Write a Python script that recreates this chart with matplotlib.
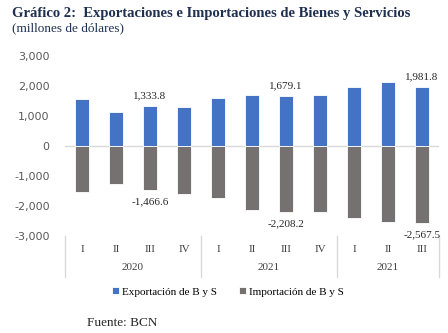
import matplotlib.pyplot as plt
import numpy as np

# quarterly values, millions of dollars
quarters = ["I", "II", "III", "IV", "I", "II", "III", "IV", "I", "II", "III"]
years = ["2020", "2021", "2021"]
year_sizes = [4, 4, 3]
exports = [1555, 1135, 1333.8, 1310, 1590, 1685, 1679.1, 1685, 1965, 2120, 1981.8]
imports = [-1540, -1275, -1466.6, -1610, -1720, -2130, -2208.2, -2205, -2390, -2540, -2567.5]
labeled = [2, 6, 10]

BLUE = "#4472C4"
GRAY = "#767171"
SERIF = "Liberation Serif"


def main():
    fig = plt.figure(figsize=(4.48, 3.33), dpi=100)
    ax = fig.add_axes([65 / 448, 1 - 236 / 333, 374 / 448, 180 / 333])

    x = np.arange(len(quarters))
    ax.bar(x, exports, width=0.44, color=BLUE, edgecolor="white", linewidth=0.6,
           label="Exportación de B y S", zorder=2)
    ax.bar(x, imports, width=0.44, color=GRAY, edgecolor="white", linewidth=0.6,
           label="Importación de B y S", zorder=2)
    ax.axhline(0, color="#d9d9d9", linewidth=1, zorder=1)

    for i in labeled:
        ax.annotate(f"{exports[i]:,.1f}", (x[i], exports[i]), xytext=(0, 4),
                    textcoords="offset points", ha="center", va="bottom",
                    fontsize=8, family=SERIF, color="#262626")
        ax.annotate(f"{imports[i]:,.1f}", (x[i], imports[i]), xytext=(0, -5),
                    textcoords="offset points", ha="center", va="top",
                    fontsize=8, family=SERIF, color="#262626")

    ax.set_xlim(-0.5, len(quarters) - 0.5)
    ax.set_ylim(-3000, 3000)
    ax.set_yticks(np.arange(-3000, 3001, 1000))
    ax.yaxis.set_major_formatter(plt.FuncFormatter(lambda v, p: f"{v:,.0f}"))
    ax.tick_params(axis="y", length=0, labelsize=8, labelcolor="#595959", pad=11)
    ax.set_xticks([])
    for s in ax.spines.values():
        s.set_visible(False)

    # two-level category axis
    trans = ax.get_xaxis_transform()
    for i, q in enumerate(quarters):
        ax.text(i, -13 / 180, q, transform=trans, ha="center", va="center",
                fontsize=8, family=SERIF, color="#404040")
    start = 0
    bounds = [-0.5]
    for yr, n in zip(years, year_sizes):
        mid = start + (n - 1) / 2
        ax.text(mid, -32 / 180, yr, transform=trans, ha="center", va="center",
                fontsize=8, family=SERIF, color="#404040")
        start += n
        bounds.append(start - 0.5)
    for b in bounds:
        ax.plot([b, b], [0, -41 / 180], transform=trans, color="#d9d9d9",
                linewidth=1, clip_on=False)

    fig.legend(loc="center", bbox_to_anchor=(228 / 448, 1 - 292 / 333), ncol=2,
               frameon=False, handlelength=0.6, handleheight=0.6, handletextpad=0.3,
               columnspacing=2.0, prop={"family": SERIF, "size": 8})

    fig.text(12 / 448, 1 - 13 / 333, "Gráfico 2:  Exportaciones e Importaciones de Bienes y Servicios",
             fontsize=10.5, fontweight="bold", family=SERIF, color="#1F3050", va="center")
    fig.text(12 / 448, 1 - 28 / 333, "(millones de dólares)",
             fontsize=9.5, family=SERIF, color="#1F3050", va="center")
    fig.text(87 / 448, 1 - 323 / 333, "Fuente: BCN",
             fontsize=9.5, family=SERIF, color="#262626", va="center")

    fig.savefig("out.png", dpi=100)


if __name__ == "__main__":
    main()
